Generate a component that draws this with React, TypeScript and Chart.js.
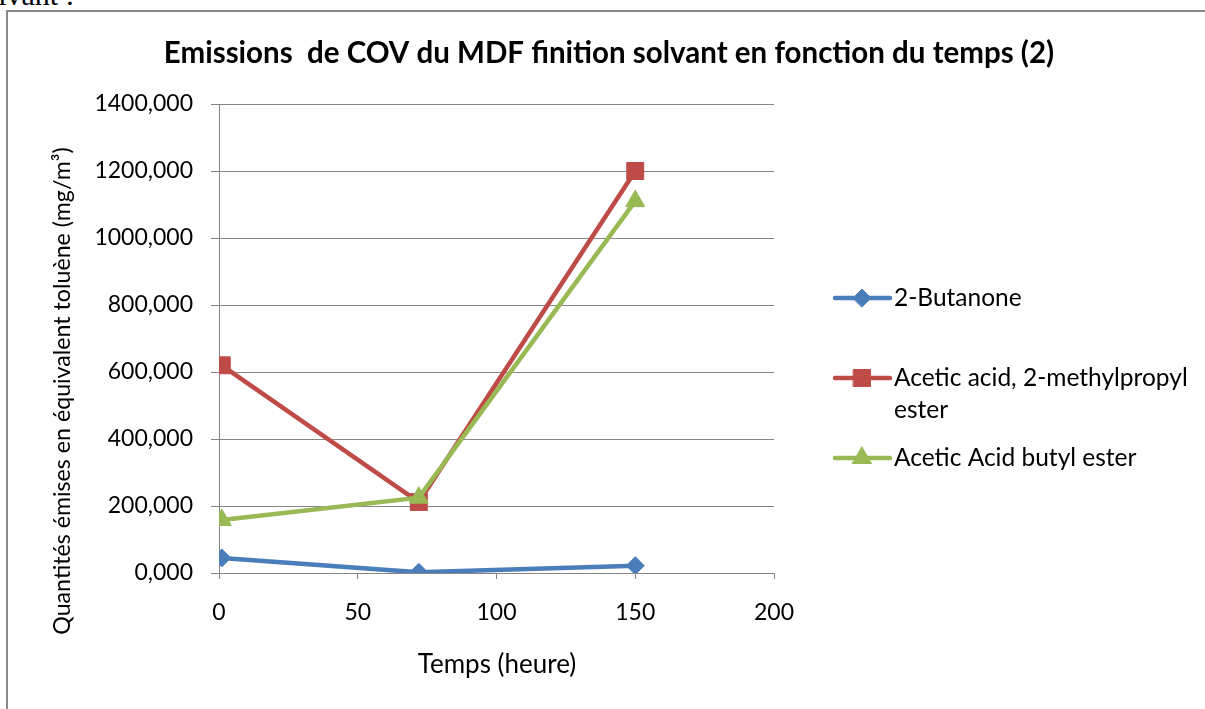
import React, { useEffect, useRef } from 'react';
import { Chart, registerables } from 'chart.js';
import { drawPoint } from 'chart.js/helpers';

Chart.register(...registerables);

// ---- data ----
const hours = [1, 72, 150];
const butanone = [45, 2, 22];
const methylpropylEster = [620, 212, 1200];
const butylEster = [158, 225, 1110];
const seriesNames = ['2-Butanone', 'Acetic acid, 2-methylpropyl ester', 'Acetic Acid butyl ester'];
const legendLines = [['2-Butanone'], ['Acetic acid, 2-methylpropyl', 'ester'], ['Acetic Acid butyl ester']];
const xTicks = [0, 50, 100, 150, 200];
const yTicks = [0, 200, 400, 600, 800, 1000, 1200, 1400];
const chartTitle = 'Emissions  de COV du MDF finition solvant en fonction du temps (2)';
const xTitle = 'Temps (heure)';
const yTitle = 'Quantités émises en équivalent toluène (mg/m³)';

const colors = ['#4A7EBB', '#BE4B48', '#98B954'];
const pointStyles = ['rectRot', 'rect', 'triangle'];
const pointRadii = [9, 12, 11];
const FONT = 'Lato';
const GRID = '#868686';

const decorPlugin = {
  id: 'decor',
  afterDraw(chart: any) {
    const ctx = chart.ctx as CanvasRenderingContext2D;
    ctx.save();
    ctx.fillStyle = '#000';
    ctx.textAlign = 'center';
    ctx.textBaseline = 'middle';
    ctx.font = `bold 29.5px ${FONT}`;
    ctx.fillText(chartTitle, 609, 53);
    ctx.font = `26px ${FONT}`;
    ctx.fillText(xTitle, 497, 665);
    ctx.font = `23.2px ${FONT}`;
    ctx.save();
    ctx.translate(63, 391);
    ctx.rotate(-Math.PI / 2);
    ctx.fillText(yTitle, 0, 0);
    ctx.restore();

    // legend
    const legendY = [298, 378, 458];
    chart.data.datasets.forEach((ds: any, i: number) => {
      const y = legendY[i];
      ctx.strokeStyle = ds.borderColor;
      ctx.lineWidth = 4.5;
      ctx.lineCap = 'round';
      ctx.beginPath();
      ctx.moveTo(835, y);
      ctx.lineTo(890, y);
      ctx.stroke();
      ctx.fillStyle = ds.backgroundColor;
      ctx.lineWidth = 1;
      drawPoint(ctx, { pointStyle: ds.pointStyle, radius: ds.pointRadius, rotation: 0, borderWidth: 1 } as any, 862, y);
      ctx.fillStyle = '#000';
      ctx.textAlign = 'left';
      ctx.textBaseline = 'middle';
      ctx.font = `24.5px ${FONT}`;
      legendLines[i].forEach((line, k) => ctx.fillText(line, 894, y + k * 32));
    });
    ctx.restore();
  },
};

export default function App() {
  const canvasRef = useRef<HTMLCanvasElement | null>(null);

  useEffect(() => {
    const canvas = canvasRef.current;
    if (!canvas) return;
    const seriesValues = [butanone, methylpropylEster, butylEster];
    const chart = new Chart(canvas, {
      type: 'line',
      data: {
        datasets: seriesValues.map((vals, i) => ({
          label: seriesNames[i],
          data: hours.map((h, k) => ({ x: h, y: vals[k] })),
          borderColor: colors[i],
          backgroundColor: colors[i],
          borderWidth: 4.5,
          pointStyle: pointStyles[i] as any,
          pointRadius: pointRadii[i],
          pointBorderWidth: 1,
          pointBackgroundColor: colors[i],
          pointBorderColor: colors[i],
          tension: 0,
          order: 2 - i,
        })),
      },
      options: {
        animation: false,
        responsive: false,
        devicePixelRatio: 1,
        layout: { padding: { top: 104, right: 431, left: 0, bottom: 0 } },
        plugins: { legend: { display: false }, tooltip: { enabled: false }, title: { display: false } },
        scales: {
          x: {
            type: 'linear',
            min: 0,
            max: 200,
            afterBuildTicks: (s: any) => { s.ticks = xTicks.map((v) => ({ value: v })); },
            afterFit: (s: any) => { s.height = 136; },
            grid: { drawOnChartArea: false, drawTicks: true, tickLength: 6, color: GRID, lineWidth: 1 },
            border: { display: true, color: GRID, width: 1 },
            ticks: { color: '#000', font: { family: FONT, size: 23 }, padding: 20, maxRotation: 0 },
          },
          y: {
            type: 'linear',
            min: 0,
            max: 1400,
            afterBuildTicks: (s: any) => { s.ticks = yTicks.map((v) => ({ value: v })); },
            afterFit: (s: any) => { s.width = 219; },
            grid: { drawOnChartArea: true, drawTicks: true, tickLength: 8, color: GRID, lineWidth: 1 },
            border: { display: true, color: GRID, width: 1 },
            ticks: {
              color: '#000',
              font: { family: FONT, size: 23 },
              padding: 18,
              callback: (v: any) => Number(v).toFixed(3).replace('.', ','),
            },
          },
        },
      },
      plugins: [decorPlugin],
    });
    return () => chart.destroy();
  }, []);

  return (
    <div style={{ position: 'fixed', left: 0, top: 0, width: 1205, height: 709, overflow: 'hidden', background: '#fff' }}>
      <div style={{ position: 'absolute', left: 0, top: -22, width: 74, display: 'flex', justifyContent: 'flex-end', whiteSpace: 'nowrap', fontFamily: '"Liberation Serif", serif', fontSize: 30 }}>
        suivant :
      </div>
      <div style={{ position: 'absolute', left: 6, top: 10, width: 1300, height: 800, borderLeft: '2px solid #8a8a8a', borderTop: '2px solid #8a8a8a' }} />
      <canvas ref={canvasRef} width={1205} height={709} style={{ position: 'absolute', left: 0, top: 0, width: 1205, height: 709 }} />
    </div>
  );
}
